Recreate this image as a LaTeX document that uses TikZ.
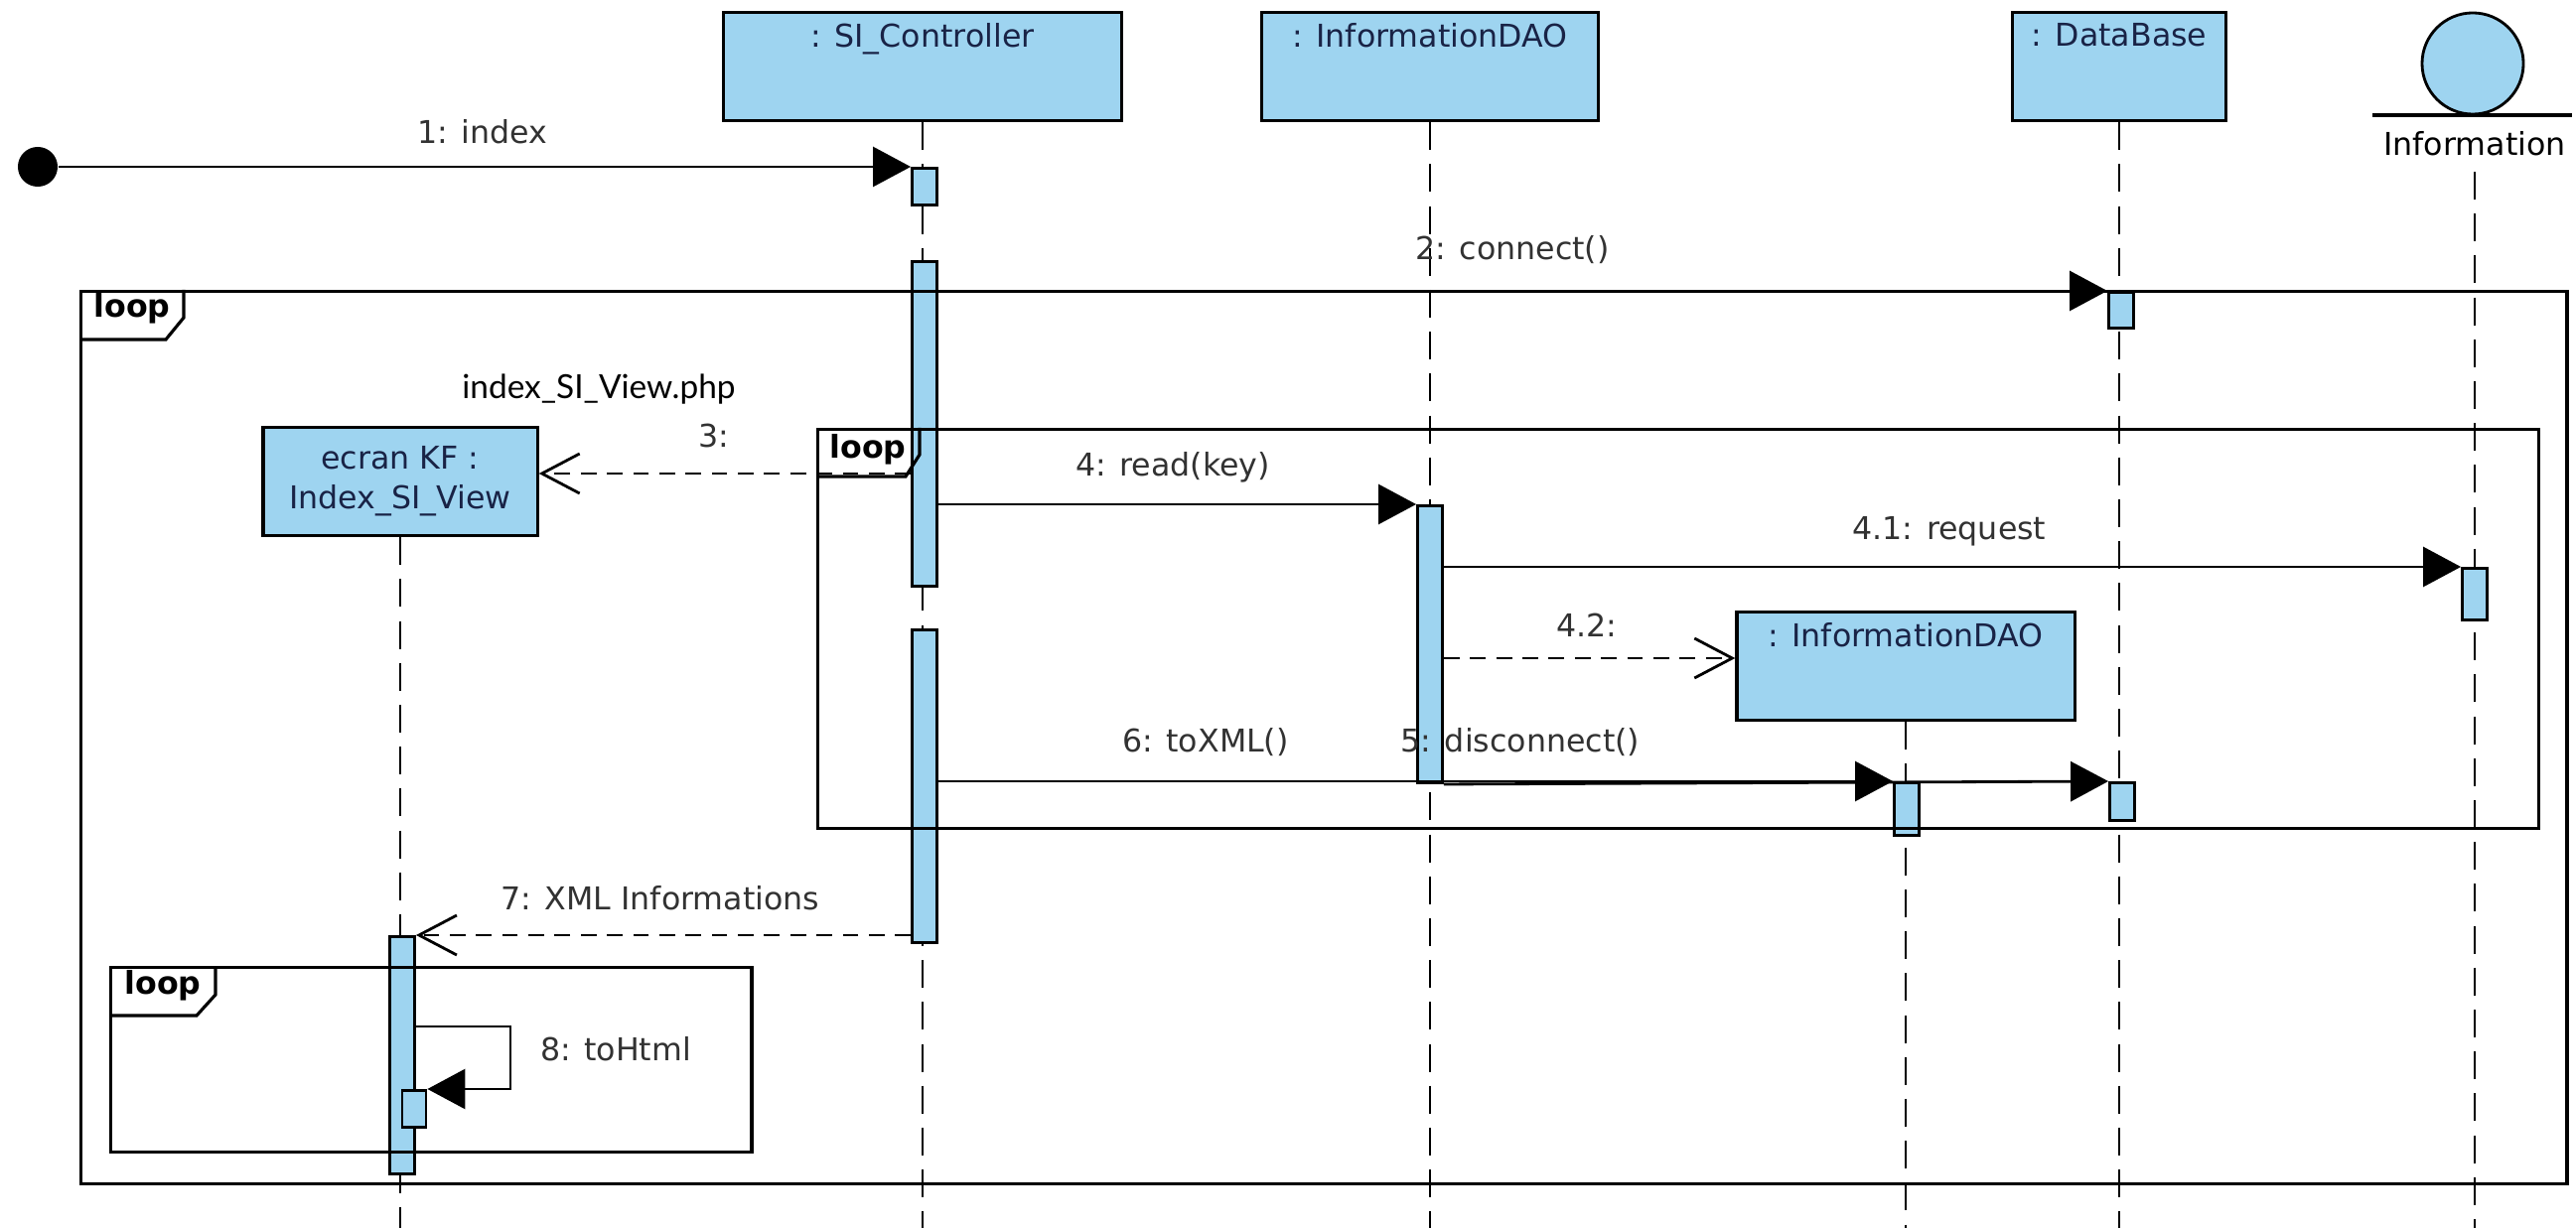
\documentclass[tikz,border=0pt]{standalone}
\usepackage{fontspec}
\setmainfont{DejaVu Sans}
\newfontfamily\phpfont{Lato}
\usetikzlibrary{arrows.meta}
\definecolor{objblue}{RGB}{158,212,240}
\definecolor{objtext}{RGB}{25,35,70}
\definecolor{msgtext}{RGB}{50,50,50}

\begin{document}
\begin{tikzpicture}[x=0.01cm, y=-0.01cm,
	obj/.style={draw=black, fill=objblue, line width=0.9pt, minimum width=#1, minimum height=1.09cm, inner sep=0pt},
	objname/.style={anchor=north, inner sep=0pt, yshift=-0.12cm, text=objtext, font=\fontsize{9}{11.4}\selectfont},
	act/.style={draw=black, fill=objblue, line width=0.8pt, minimum width=0.25cm, minimum height=#1, inner sep=0pt, anchor=north},
	life/.style={line width=0.6pt, dash pattern=on 8pt off 4pt},
	msg/.style={line width=0.8pt, -{Triangle[length=3.8mm,width=4mm]}},
	reply/.style={line width=0.8pt, dash pattern=on 4.5pt off 3pt, -{Straight Barb[length=3.8mm,width=4mm]}},
	frame/.style={draw=black, line width=0.9pt, anchor=north west, inner sep=0pt},
	looptext/.style={inner sep=0pt, font=\fontsize{9}{11}\selectfont\bfseries},
	lbl/.style={inner sep=0pt, text=msgtext, font=\fontsize{9}{11}\selectfont}
]
	\useasboundingbox (0,0) rectangle (2594,1237);
	\coordinate (bottom) at (0,1237);

	% lifeline heads
	\node[obj=4cm] (ctrl) at (929,67) {};
	\node[objname] (ctrlname) at (ctrl.north) {: SI\_Controller};
	\node[obj=3.39cm] (dao) at (1440,67) {};
	\node[objname] (daoname) at (dao.north) {: InformationDAO};
	\node[obj=2.15cm] (db) at (2134,67) {};
	\node[objname] (dbname) at (db.north) {: DataBase};
	\node[circle, draw=black, fill=objblue, line width=0.8pt, minimum size=1.02cm, inner sep=0pt] (info) at (2490,64) {};
	\draw[line width=0.9pt] (2389,116) -- (2590,116);
	\node[lbl, text=black] (infoname) at (2492,145) {Information};
	\node[obj=2.76cm, align=center, text=objtext, font=\fontsize{9}{11.4}\selectfont] (ecran) at (403,485) {ecran KF :\\Index\_SI\_View};
	\node[obj=3.4cm] (idao) at (1919,671) {};
	\node[objname] (idaoname) at (idao.north) {: InformationDAO};
	\node[circle, fill=black, minimum size=0.4cm, inner sep=0pt] (start) at (38,168) {};

	% lifelines
	\draw[life] (ctrl.south) -- (ctrl.south |- bottom);
	\draw[life] (dao.south) -- (dao.south |- bottom);
	\draw[life] (db.south) -- (db.south |- bottom);
	\draw[life] (infoname.south) ++(0,15) -- (infoname.south |- bottom);
	\draw[life] (ecran.south) -- (ecran.south |- bottom);
	\draw[life] (idao.south) -- (idao.south |- bottom);

	% activations
	\node[act=0.37cm] (ctrlA) at (931,168) {};
	\node[act=3.27cm] (ctrlB) at (931,262) {};
	\node[act=3.15cm] (ctrlC) at (931,633) {};
	\node[act=0.36cm] (dbA) at (2136,293) {};
	\node[act=2.79cm] (daoA) at (1440,508) {};
	\node[act=0.52cm] (infoA) at (2492,571) {};
	\node[act=0.53cm] (idaoA) at (1920,787) {};
	\node[act=0.38cm] (dbB) at (2137,787) {};
	\node[act=2.39cm] (ecranA) at (405,942) {};
	\node[act=0.37cm, minimum width=0.24cm] (ecranB) at (417,1097) {};

	% loop frames
	\node[frame, minimum width=25.02cm, minimum height=8.98cm] (outer) at (80,292) {};
	\draw[line width=0.9pt] (outer.north west) ++(0,50) -- ++(87,0) -- ++(18,-22) -- ++(0,-28);
	\node[looptext] (outerloop) at (133,311) {loop};
	\node[frame, minimum width=17.32cm, minimum height=4.02cm] (inner) at (822,431) {};
	\draw[line width=0.9pt] (inner.north west) ++(0,49) -- ++(90,0) -- ++(14,-22) -- ++(0,-27);
	\node[looptext] (innerloop) at (874,453) {loop};
	\node[frame, minimum width=6.45cm, minimum height=1.86cm] (small) at (110,973) {};
	\draw[line width=0.9pt] (small.north west) ++(0,50) -- ++(88,0) -- ++(19,-21) -- ++(0,-29);
	\node[looptext] (smallloop) at (164,993) {loop};

	% messages
	\coordinate (m3) at (0,477);
	\coordinate (m42) at (0,663);
	\coordinate (s8) at (514,1034);
	\draw[msg] (start) -- (ctrlA.north west);
	\draw[msg] (ctrlB.east |- dbA.north west) -- (dbA.north west);
	\draw[reply] (ctrlB.west |- m3) -- (ecran.east |- m3);
	\draw[msg] (ctrlB.east |- daoA.north west) -- (daoA.north west);
	\draw[msg] (daoA.east |- infoA.north west) -- (infoA.north west);
	\draw[reply] (daoA.east |- m42) -- (idao.west |- m42);
	\draw[msg] (ctrlC.east |- idaoA.north west) -- (idaoA.north west);
	\draw[msg] (daoA.south east) -- (dbB.north west);
	\draw[reply] (ctrlC.west |- ecranA.north east) -- (ecranA.north east);
	\draw[msg] (ecranA.east |- s8) -- (s8) |- (ecranB.north east);

	% message labels
	\node[lbl] (l1) at (486,133) {1: index};
	\node[lbl] (l2) at (1523,252) {2: connect()};
	\node[inner sep=0pt, font=\phpfont\fontsize{9.5}{11}\selectfont] (php) at (603,392) {index\_SI\_View.php};
	\node[lbl] (l3) at (719,439) {3:};
	\node[lbl] (l4) at (1181,471) {4: read(key)};
	\node[lbl] (l41) at (1963,535) {4.1: request};
	\node[lbl] (l42) at (1598,630) {4.2:};
	\node[lbl] (l6) at (1214,748) {6: toXML()};
	\node[lbl] (l5) at (1531,748) {5: disconnect()};
	\node[lbl] (l7) at (665,905) {7: XML Informations};
	\node[lbl] (l8) at (620,1057) {8: toHtml};
\end{tikzpicture}
\end{document}
